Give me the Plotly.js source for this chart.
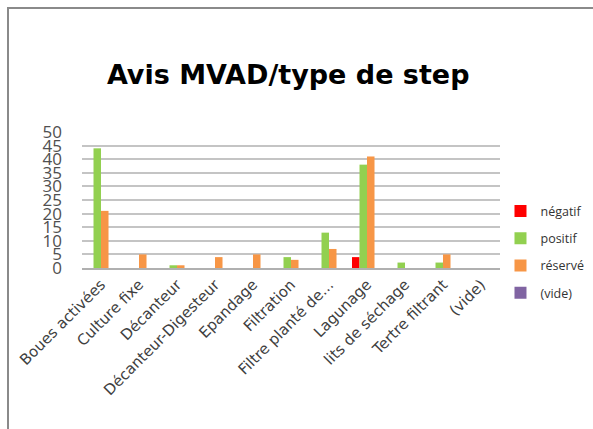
<!DOCTYPE html>
<html><head><meta charset="utf-8">
<script src="https://cdn.plot.ly/plotly-3.0.1.min.js"></script>
<style>
html,body{margin:0;padding:0;background:#fff;overflow:hidden;}
#chart{position:absolute;left:0;top:0;width:593px;height:429px;}
#frame{position:absolute;left:7px;top:7px;width:600px;height:440px;border-top:2px solid #8a8a8a;border-left:2px solid #8a8a8a;pointer-events:none;}
</style></head>
<body>
<div id="chart"></div>
<div id="frame"></div>
<script>
const categories = ["Boues activées","Culture fixe","Décanteur","Décanteur-Digesteur","Epandage","Filtration","Filtre planté de...","Lagunage","lits de séchage","Tertre filtrant","(vide)"];
const negatif = [null,null,null,null,null,null,null,4,null,null,null];
const positif = [44,null,1,null,null,4,13,38,2,2,null];
const reserve = [21,5,1,4,5,3,7,41,null,5,null];
const vide = [null,null,null,null,null,null,null,null,null,null,null];
const seriesNames = ["négatif","positif","réservé","(vide)"];
const seriesColors = ["#FF0000","#92D050","#F79646","#8064A2"];
const yTicks = [0,5,10,15,20,25,30,35,40,45,50];

const values = [negatif, positif, reserve, vide];
const traces = values.map((v,i)=>({
  type:'bar', x:categories, y:v, name:seriesNames[i],
  marker:{color:seriesColors[i]}, legendgroup:'g'+i,
  hoverinfo:'x+y+name'
}));

const layout = {
  width:593, height:429,
  margin:{l:82, r:93, t:132, b:161},
  paper_bgcolor:'#fff', plot_bgcolor:'#fff',
  title:{text:'<b>Avis MVAD/type de step</b>', xref:'container', x:0.486, xanchor:'center', yref:'container', y:0.827, yanchor:'middle',
         font:{family:'DejaVu Sans, sans-serif', size:27, color:'#000'}},
  barmode:'group', bargap:0.21, bargroupgap:0,
  showlegend:true,
  legend:{xref:'container', yref:'container', x:0.844, xanchor:'left', y:0.542, yanchor:'top', tracegroupgap:8,
          font:{family:'Open Sans, sans-serif', size:12.5, color:'#333'}, itemwidth:30, bgcolor:'rgba(0,0,0,0)'},
  xaxis:{type:'category', tickangle:-45, tickfont:{family:'DejaVu Sans, sans-serif', size:15, color:'#404040'},
         showgrid:false, showline:true, linecolor:'#b0b0b0', linewidth:2, ticks:'', automargin:false},
  yaxis:{range:[0,50], tickvals:yTicks, ticktext:yTicks.map(String), showgrid:true, gridcolor:'#c4c4c4', gridwidth:2,
         zeroline:false, showline:false, ticks:'', ticklabelstandoff:19,
         tickfont:{family:'Open Sans, sans-serif', size:17, color:'#505050'}, automargin:false}
};
Plotly.newPlot('chart', traces, layout, {displayModeBar:false, staticPlot:true});
</script>
</body></html>
